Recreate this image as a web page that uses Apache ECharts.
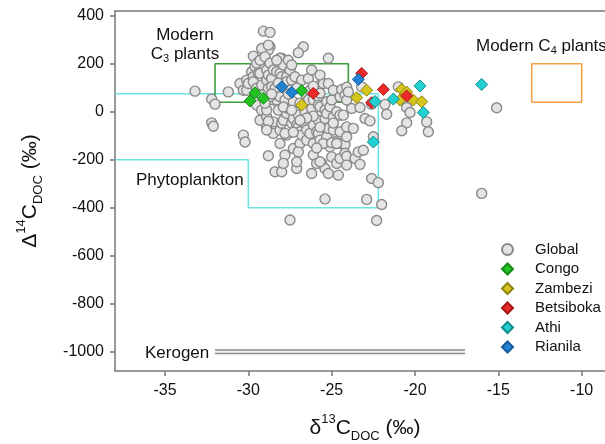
<!DOCTYPE html>
<html>
<head>
<meta charset="utf-8">
<script src="https://cdn.jsdelivr.net/npm/echarts@6/dist/echarts.min.js"></script>
<style>
  html, body { margin: 0; padding: 0; background: #fff; }
  #chart { width: 605px; height: 444px; }
</style>
</head>
<body>
<div id="chart"></div>
<script>
// axis ticks
const xTicks = [-35, -30, -25, -20, -15, -10]
const yTicks = [-1000, -800, -600, -400, -200, 0, 200, 400]

// Global compilation: [d13C, D14C]
const globalPts = [
  [-29.1, 336], [-28.7, 331], [-28.7, 271], [-28.8, 257], [-26.7, 271], [-27.0, 246], [-25.2, 223],
  [-29.7, 232], [-33.2, 86], [-31.2, 83], [-32.2, 53], [-32.0, 32], [-32.2, -46], [-32.1, -60],
  [-30.3, -97], [-30.2, -126], [-28.8, -183], [-28.4, -250], [-28.0, -250], [-25.4, -363], [-27.5, -451],
  [-15.1, 17], [-16.0, -340], [-22.9, -365], [-22.0, -386], [-22.3, -453], [-22.6, -278], [-22.2, -295],
  [-28.0, 223], [-30.5, 118], [-30.3, 90], [-30.1, 132], [-30.1, 90], [-30.0, 118], [-29.8, 167],
  [-29.7, 146], [-29.7, 125], [-29.6, 188], [-29.5, 202], [-29.5, 98], [-29.5, 28], [-29.4, 160],
  [-29.3, 215], [-29.3, 160], [-29.2, 264], [-29.2, 111], [-29.2, 7], [-29.3, -35], [-29.0, 229],
  [-28.9, 174], [-28.9, 132], [-28.9, -21], [-28.9, -63], [-28.8, 278], [-28.8, 153], [-28.8, 98],
  [-28.8, 49], [-28.7, 202], [-28.6, 139], [-28.6, 104], [-28.5, 174], [-28.5, 49], [-28.5, -42],
  [-28.5, -90], [-28.4, 98], [-28.3, 167], [-28.3, 49], [-28.2, 7], [-28.1, 223], [-28.1, 160],
  [-28.1, 63], [-28.1, -76], [-28.1, -132], [-28.0, 146], [-28.0, -48], [-27.9, 195], [-27.9, -35],
  [-27.8, 49], [-27.7, 146], [-27.7, 125], [-27.7, -7], [-27.7, -97], [-27.6, 14], [-27.5, 174],
  [-27.4, 132], [-27.4, -48], [-27.3, 42], [-27.3, -28], [-27.3, -153], [-27.2, 146], [-27.1, -55],
  [-27.0, -14], [-27.0, -63], [-26.9, -83], [-26.9, -132], [-26.8, 132], [-26.8, -97], [-26.7, 21],
  [-26.6, 0], [-26.6, -48], [-26.5, 63], [-26.5, -76], [-26.5, -118], [-26.4, 139], [-26.4, 49],
  [-26.3, -90], [-26.2, 14], [-26.1, 49], [-26.1, -55], [-26.1, -132], [-26.1, -180], [-25.9, -83],
  [-25.8, 63], [-25.8, 28], [-25.8, -35], [-25.8, -90], [-25.7, 111], [-25.7, 77], [-25.7, 21],
  [-25.7, -118], [-25.6, -215], [-25.5, 118], [-25.4, 7], [-25.4, -28], [-25.4, -236], [-25.3, 42],
  [-25.3, -7], [-25.3, -104], [-25.2, 118], [-25.2, -69], [-25.2, -257], [-25.1, 21], [-25.1, -146],
  [-25.0, 49], [-25.0, -188], [-24.9, 90], [-24.9, -21], [-24.9, -76], [-24.8, -125], [-24.7, 0],
  [-24.7, -215], [-24.6, -264], [-24.5, 63], [-24.5, -14], [-24.5, -83], [-24.5, -132], [-24.5, -194],
  [-24.4, 93], [-24.3, -14], [-24.2, 70], [-24.2, -136], [-24.2, -173], [-24.1, 102], [-24.1, 49],
  [-24.1, -63], [-24.1, -104], [-24.1, -185], [-24.1, -222], [-24.0, 83], [-23.8, 14], [-23.7, -69],
  [-23.6, -194], [-23.4, -167], [-23.3, 18], [-23.3, -219], [-23.2, 104], [-23.1, -160], [-23.0, -28],
  [-22.7, -38], [-22.6, 32], [-22.5, -104], [-21.8, 31], [-21.7, -10], [-21.0, 104], [-20.5, 18],
  [-20.3, -3], [-19.3, -42], [-19.2, -83], [-20.5, -46], [-20.8, -79], [-27.8, -180], [-27.9, -215],
  [-27.1, -236], [-27.1, -208], [-27.0, -167], [-25.9, -215], [-25.7, -208], [-25.5, -132], [-25.0, -129],
  [-24.7, -132], [-27.8, -90], [-26.2, -257], [-28.7, 63], [-28.9, 7], [-28.8, -40], [-28.9, -76],
  [-29.2, 70], [-28.2, 120], [-27.5, 90], [-27.1, 99], [-26.3, 90], [-26.1, 107], [-27.6, 74],
  [-28.6, 74], [-29.0, 36], [-27.9, 20], [-27.4, 7], [-26.9, 36], [-26.1, -18], [-26.5, -26],
  [-26.9, -35], [-27.3, -85], [-25.7, -64], [-24.9, -47], [-25.9, -151], [-28.3, 215], [-27.6, 215],
  [-27.4, 195], [-26.2, 174], [-25.7, 153]
]
const congo = [[-29.6, 79], [-29.9, 45], [-29.1, 56], [-26.8, 88]]
const zambezi = [[-26.8, 28], [-22.9, 90], [-23.5, 59], [-20.8, 93], [-20.5, 82], [-20.9, 49], [-20.1, 49], [-19.6, 42]]
const betsiboka = [[-26.1, 77], [-23.2, 160], [-21.9, 93], [-20.5, 66], [-22.6, 38]]
const athi = [[-16.0, 114], [-19.7, 108], [-21.3, 53], [-22.4, 43], [-19.5, -3], [-22.5, -126]]
const rianila = [[-28.0, 104], [-27.4, 81], [-23.4, 135]]

// end-member fields
const c3Box = [[-32, 40], [-24, 40], [-24, 200], [-32, 200], [-32, 40]]
const c4Box = [[-13, 40], [-10, 40], [-10, 200], [-13, 200], [-13, 40]]
const phytoLine = [[-38, 75], [-22.2, 75], [-22.2, -400], [-30, -400], [-30, -200], [-38, -200]]
const kerogenLine = [[-32, -1000], [-17, -1000]]

const FONT = 'Liberation Sans, Arial, sans-serif'
const chart = echarts.init(document.getElementById('chart'), null, { renderer: 'canvas' })

const diamond = (name, data, fill, border) => ({
  name, type: 'scatter', data, symbol: 'diamond', symbolSize: 12, z: 5,
  itemStyle: { color: fill, borderColor: border, borderWidth: 1, opacity: 1 },
})
const outline = (data, color, width, z) => ({
  type: 'line', data, symbol: 'none', silent: true, z,
  lineStyle: { color, width }, animation: false,
})
const richName = {
  a: { fontSize: 21, fontFamily: FONT, color: '#111', lineHeight: 30 },
  sup: { fontSize: 13, fontFamily: FONT, color: '#111', verticalAlign: 'top', lineHeight: 14 },
  sub: { fontSize: 13, fontFamily: FONT, color: '#111', verticalAlign: 'bottom', lineHeight: 14 },
}
const richNote = {
  a: { fontSize: 17, fontFamily: FONT, fill: '#111', lineHeight: 20 },
  s: { fontSize: 11, fontFamily: FONT, fill: '#111', verticalAlign: 'bottom', lineHeight: 12 },
}

chart.setOption({
  animation: false,
  grid: { left: 115, top: 11, width: 500, height: 360, outerBoundsMode: 'none' },
  xAxis: [{
    type: 'value', min: -38, max: -8,
    name: '{a|δ}{sup|13}{a|C}{sub|DOC}{a| (‰)}',
    nameLocation: 'middle', nameGap: 42,
    nameTextStyle: { rich: richName },
    axisLine: { onZero: false, lineStyle: { color: '#777', width: 1.5 } },
    axisTick: { customValues: xTicks, length: 5, lineStyle: { color: '#777', width: 1.5 } },
    axisLabel: { customValues: xTicks, margin: 12, fontSize: 16, fontFamily: FONT, color: '#111', formatter: (v) => String(v) },
    splitLine: { show: false },
  }, {
    type: 'value', min: -38, max: -8, position: 'top',
    axisLine: { onZero: false, lineStyle: { color: '#777', width: 1.5 } },
    axisTick: { show: false }, axisLabel: { show: false }, splitLine: { show: false },
  }],
  yAxis: {
    type: 'value', min: -1080, max: 420,
    name: '{a|Δ}{sup|14}{a|C}{sub|DOC}{a| (‰)}',
    nameLocation: 'middle', nameGap: 70, nameRotate: 90,
    nameTextStyle: { rich: richName },
    axisLine: { show: true, onZero: false, lineStyle: { color: '#777', width: 1.5 } },
    axisTick: { customValues: yTicks, length: 5, lineStyle: { color: '#777', width: 1.5 } },
    axisLabel: { customValues: yTicks, margin: 11, fontSize: 16, fontFamily: FONT, color: '#111', formatter: (v) => String(v) },
    splitLine: { show: false },
  },
  legend: {
    orient: 'vertical', left: 496, top: 237, itemGap: 4.5,
    itemWidth: 11, itemHeight: 11,
    textStyle: { fontSize: 15, fontFamily: FONT, color: '#111', padding: [0, 0, 0, 17] },
    data: [
      { name: 'Global', icon: 'circle' },
      { name: 'Congo', icon: 'diamond' },
      { name: 'Zambezi', icon: 'diamond' },
      { name: 'Betsiboka', icon: 'diamond' },
      { name: 'Athi', icon: 'diamond' },
      { name: 'Rianila', icon: 'diamond' },
    ],
  },
  graphic: [
    { type: 'text', x: 185, y: 35, z: 10, style: { text: 'Modern', font: '17px ' + FONT, fill: '#111', align: 'center', verticalAlign: 'middle' } },
    { type: 'text', x: 185, y: 54, z: 10, style: { text: '{a|C}{s|3}{a| plants}', align: 'center', verticalAlign: 'middle', rich: richNote } },
    { type: 'text', x: 476, y: 46, z: 10, style: { text: '{a|Modern C}{s|4}{a| plants}', align: 'left', verticalAlign: 'middle', rich: richNote } },
    { type: 'text', x: 136, y: 180, z: 10, style: { text: 'Phytoplankton', font: '17px ' + FONT, fill: '#111', align: 'left', verticalAlign: 'middle' } },
    { type: 'text', x: 145, y: 353, z: 10, style: { text: 'Kerogen', font: '17px ' + FONT, fill: '#111', align: 'left', verticalAlign: 'middle' } },
  ],
  series: [
    outline(phytoLine, '#6fe3e3', 1.6, 1),
    outline(c3Box, '#3a9d3a', 1.6, 1),
    outline(c4Box, '#f5a146', 1.6, 1),
    outline(kerogenLine, '#8a8a8a', 5, 1),
    outline(kerogenLine, '#f2f2f2', 2, 2),
    {
      name: 'Global', type: 'scatter', data: globalPts, symbol: 'circle', symbolSize: 10, z: 3,
      itemStyle: { color: '#e4e4e4', borderColor: '#8a8a8a', borderWidth: 1.4, opacity: 1 },
    },
    diamond('Congo', congo, '#22c322', '#178a17'),
    diamond('Zambezi', zambezi, '#d6c51c', '#8f8410'),
    diamond('Betsiboka', betsiboka, '#ec2a2a', '#a31818'),
    diamond('Athi', athi, '#22d1d1', '#138b8b'),
    diamond('Rianila', rianila, '#2282d2', '#155a9a'),
  ],
})

window.addEventListener('resize', () => chart.resize())
</script>
</body>
</html>
